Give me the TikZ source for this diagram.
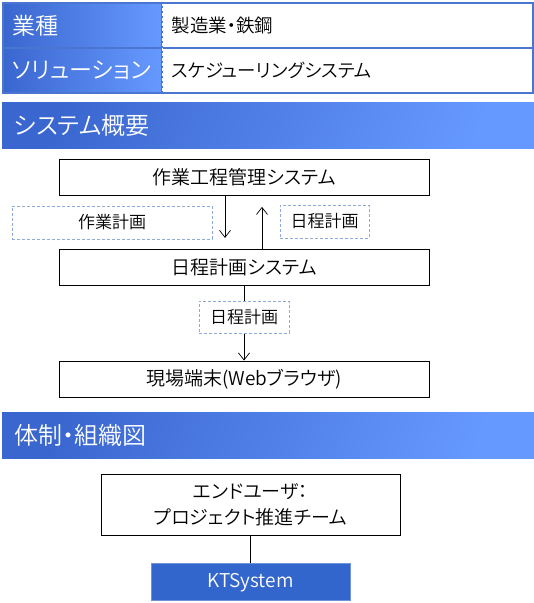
\documentclass[tikz,border=0pt]{standalone}
\usepackage{fontspec}
\setmainfont{Noto Sans CJK JP}[UprightFont=* DemiLight, RawFeature=+palt]
\usetikzlibrary{arrows.meta,positioning}

\definecolor{hdark}{HTML}{3A67CF}
\definecolor{hlight}{HTML}{6699FF}
\definecolor{tblue}{HTML}{4A76D0}
\definecolor{dashblue}{HTML}{8FAADC}
\definecolor{ktblue}{HTML}{3366CC}
\definecolor{ktedge}{HTML}{7094DB}

\begin{document}
\begin{tikzpicture}[
  x=1pt, y=-1pt,
  node distance=10pt and 10pt,
  hcell/.style={minimum width=158pt, minimum height=44pt, text width=140pt, inner xsep=9pt, align=left, draw=tblue, line width=1pt, left color=hdark, right color=hlight, text=white, font=\fontsize{23}{27}\selectfont},
  vcell/.style={minimum width=370pt, minimum height=44pt, text width=352pt, inner xsep=9pt, align=left, draw=tblue, line width=1pt, font=\fontsize{18.5}{22}\selectfont},
  section/.style={minimum width=532pt, minimum height=46pt, text width=508pt, inner xsep=12pt, align=left, shading=axis, left color=hdark, right color=hlight, shading angle=70, text=white, font=\fontsize{24}{28}\selectfont},
  sysbox/.style={draw, line width=0.8pt, minimum width=370pt, minimum height=36pt, font=\fontsize{19}{23}\selectfont},
  datalabel/.style={draw=dashblue, dash pattern=on 3pt off 2pt, line width=0.8pt, minimum height=33pt, font=\fontsize{17}{20}\selectfont},
  flow/.style={-{Straight Barb[length=7pt, width=11pt]}, line width=0.7pt}
]
\useasboundingbox (0,0) rectangle (534,603);
% table
\node[hcell, anchor=north west] (indk) at (3,3) {業種};
\node[vcell, right=0pt of indk] (indv) {製造業・鉄鋼};
\node[hcell, below=0pt of indk] (solk) {ソリューション};
\node[vcell, right=0pt of solk] (solv) {スケジューリングシステム};
\draw[white, dash pattern=on 3pt off 2pt, line width=1pt] (indk.north east) -- (solk.south east);
\draw[tblue, line width=1.5pt] (indk.north west) rectangle (solv.south east);
% system overview
\node[section, anchor=north west] (overview) at (2,102) {システム概要};
\node[sysbox] (plant) at (244,177.5) {作業工程管理システム};
\node[sysbox, below=53pt of plant] (sched) {日程計画システム};
\node[datalabel, minimum width=200pt] (workplan) at (112,222.5) {作業計画};
\node[datalabel, minimum width=89pt] (dayplan) at (324.5,221.5) {日程計画};
\node[datalabel, minimum width=90pt, minimum height=32pt, below=15pt of sched] (dayplan2) {日程計画};
\node[sysbox, below=27pt of dayplan2] (terminal) {現場端末(Webブラウザ)};
\draw[flow, shorten >=11pt] ([xshift=-19pt]plant.south) -- ([xshift=-19pt]sched.north);
\draw[flow, shorten >=11pt] ([xshift=18pt]sched.north) -- ([xshift=18pt]plant.south);
\draw[line width=0.7pt] (sched) -- (dayplan2);
\draw[flow] (dayplan2) -- (terminal);
% organisation
\node[section, anchor=north west] (organisation) at (2,412) {体制・組織図};
\node[sysbox, minimum width=299pt, minimum height=61pt, align=center, font=\fontsize{19}{26}\selectfont] (team) at (250.5,504.5) {エンドユーザ：\\プロジェクト推進チーム};
\node[fill=ktblue, draw=ktedge, line width=1pt, minimum width=199pt, minimum height=37pt, text=white, font=\fontsize{19}{22}\selectfont, below=28pt of team] (kt) {KTSystem};
\draw[line width=0.7pt] (team) -- (kt);
\end{tikzpicture}
\end{document}
